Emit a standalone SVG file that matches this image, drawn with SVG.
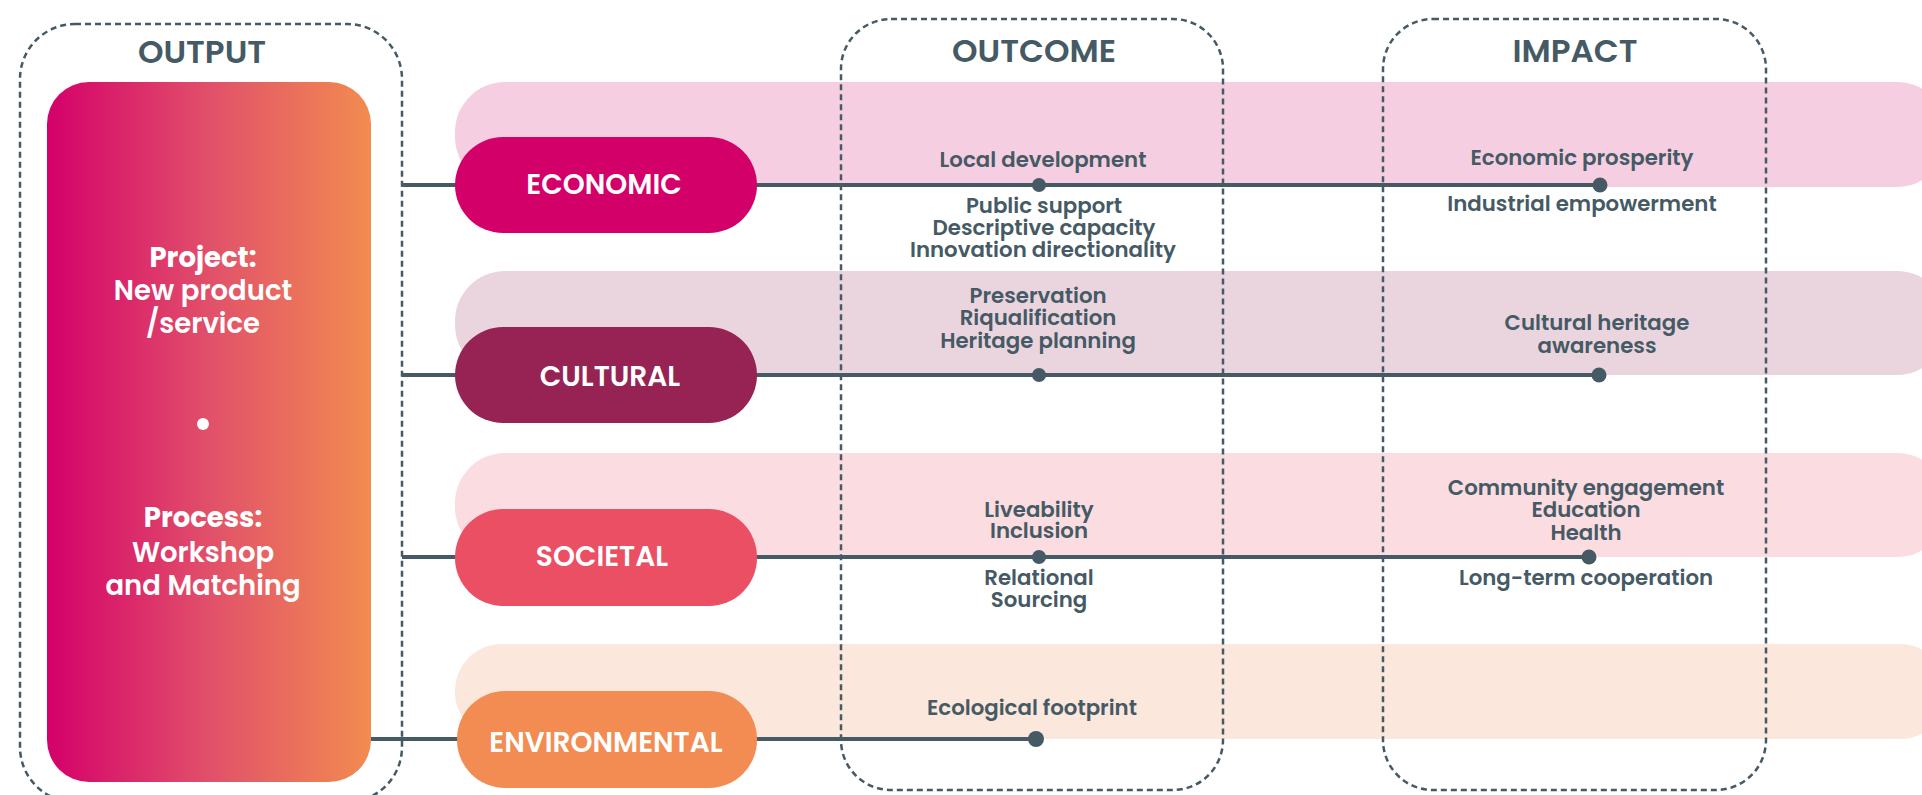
<svg xmlns="http://www.w3.org/2000/svg" width="1922" height="795" viewBox="0 0 1922 795">
<defs>
<linearGradient id="grad" x1="0" y1="0" x2="1" y2="0">
<stop offset="0" stop-color="#D4006A"/>
<stop offset="0.5" stop-color="#E1506A"/>
<stop offset="1" stop-color="#F28C50"/>
</linearGradient>
<style>
.t{font-family:Poppins,Inter,"Open Sans",sans-serif;font-weight:600;fill:#455A64;text-anchor:middle}
.lbl{font-size:21.3px}
.head{font-size:32.5px}
.pill{font-size:28px;fill:#FFFFFF}
.w{font-family:Poppins,Inter,"Open Sans",sans-serif;fill:#FFFFFF;text-anchor:middle;font-size:27.5px;font-weight:600}
.wb{font-weight:700}
.box{fill:none;stroke:#455A64;stroke-width:2.5;stroke-dasharray:6 4}
.conn{stroke:#455A64;stroke-width:4;fill:none}
.dot{fill:#455A64}
</style>
</defs>
<rect width="1922" height="795" fill="#FFFFFF"/>

<g id="bands">
<rect x="455" y="82" width="1492" height="105" rx="50" fill="#F5CFE1"/>
<rect x="455" y="271" width="1492" height="104" rx="50" fill="#EAD5DF"/>
<rect x="455" y="453" width="1492" height="104" rx="50" fill="#FADCE1"/>
<rect x="455" y="644" width="1492" height="95" rx="47" fill="#FBE7DB"/>
</g>

<g id="column-output">
<rect class="box" x="20" y="24" width="382" height="778" rx="55"/>
<text class="t head" x="202" y="63">OUTPUT</text>
</g>
<g id="column-outcome">
<rect class="box" x="841" y="19" width="382" height="771" rx="50"/>
<text class="t head" x="1034" y="62">OUTCOME</text>
</g>
<g id="column-impact">
<rect class="box" x="1383" y="19" width="383" height="771" rx="50"/>
<text class="t head" x="1575" y="62">IMPACT</text>
</g>

<g id="connectors">
<path class="conn" d="M402 185 H1600"/>
<path class="conn" d="M402 375 H1599"/>
<path class="conn" d="M402 557 H1589"/>
<path class="conn" d="M371 739 H1036"/>
<circle class="dot" cx="1039" cy="185" r="7"/>
<circle class="dot" cx="1600" cy="185" r="7.5"/>
<circle class="dot" cx="1039" cy="375" r="7"/>
<circle class="dot" cx="1599" cy="375" r="7.5"/>
<circle class="dot" cx="1039" cy="557" r="7"/>
<circle class="dot" cx="1589" cy="557" r="7.5"/>
<circle class="dot" cx="1036" cy="739" r="8"/>
</g>

<g id="output-node">
<rect x="47" y="82" width="324" height="700" rx="42" fill="url(#grad)"/>
<text class="w wb" x="203" y="267">Project:</text>
<text class="w" x="203" y="300">New product</text>
<text class="w" x="203" y="333">/service</text>
<circle cx="203" cy="424" r="6" fill="#FFFFFF"/>
<text class="w wb" x="203" y="527">Process:</text>
<text class="w" x="203" y="562">Workshop</text>
<text class="w" x="203" y="595">and Matching</text>
</g>

<g id="node-economic">
<rect x="455" y="137" width="302" height="96" rx="48" fill="#D4006A"/>
<text class="t pill" x="604" y="194">ECONOMIC</text>
</g>
<g id="node-cultural">
<rect x="455" y="327" width="302" height="96" rx="48" fill="#962354"/>
<text class="t pill" x="610" y="386">CULTURAL</text>
</g>
<g id="node-societal">
<rect x="455" y="509" width="302" height="97" rx="48" fill="#EA4F64"/>
<text class="t pill" x="602" y="566">SOCIETAL</text>
</g>
<g id="node-environmental">
<rect x="457" y="691" width="300" height="97" rx="48" fill="#F28C52"/>
<text class="t pill" x="606" y="752">ENVIRONMENTAL</text>
</g>

<g id="outcome-labels">
<text class="t lbl" x="1043" y="167">Local development</text>
<text class="t lbl" x="1044" y="213">Public support</text>
<text class="t lbl" x="1044" y="235">Descriptive capacity</text>
<text class="t lbl" x="1043" y="257">Innovation directionality</text>
<text class="t lbl" x="1038" y="303">Preservation</text>
<text class="t lbl" x="1038" y="325">Riqualification</text>
<text class="t lbl" x="1038" y="348">Heritage planning</text>
<text class="t lbl" x="1039" y="517">Liveability</text>
<text class="t lbl" x="1039" y="538">Inclusion</text>
<text class="t lbl" x="1039" y="585">Relational</text>
<text class="t lbl" x="1039" y="607">Sourcing</text>
<text class="t lbl" x="1032" y="715">Ecological footprint</text>
</g>

<g id="impact-labels">
<text class="t lbl" x="1582" y="165">Economic prosperity</text>
<text class="t lbl" x="1582" y="211">Industrial empowerment</text>
<text class="t lbl" x="1597" y="330">Cultural heritage</text>
<text class="t lbl" x="1597" y="353">awareness</text>
<text class="t lbl" x="1586" y="495">Community engagement</text>
<text class="t lbl" x="1586" y="517">Education</text>
<text class="t lbl" x="1586" y="540">Health</text>
<text class="t lbl" x="1586" y="585">Long-term cooperation</text>
</g>
</svg>
